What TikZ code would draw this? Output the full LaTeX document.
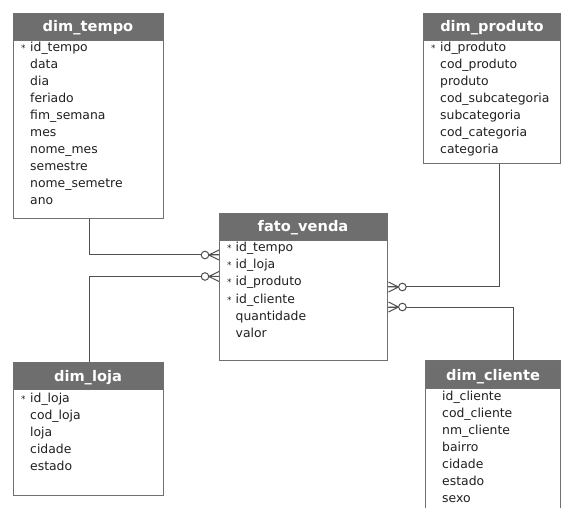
\documentclass[tikz,border=0pt]{standalone}
\usepackage{fontspec}
\setmainfont{DejaVu Sans}
\usetikzlibrary{calc}
\definecolor{hdr}{HTML}{6E6E6E}
\definecolor{frame}{HTML}{707070}
\definecolor{conncol}{HTML}{505050}
\definecolor{txt}{HTML}{202020}
\tikzset{
  tbl/.style={draw=frame, line width=1.4pt, fill=white, anchor=north west, inner sep=0pt},
  hdrbox/.style={fill=hdr, draw=frame, line width=1.4pt, anchor=north west, inner sep=0pt},
  hdrtext/.style={text=white, font=\fontsize{14.6}{16}\selectfont\bfseries, anchor=base, inner sep=0pt},
  row/.style={text=txt, font=\fontsize{12.4}{14}\selectfont, anchor=base west, inner sep=0pt},
  star/.style={text=txt, font=\fontsize{9}{10}\selectfont, anchor=base west, inner sep=0pt},
  conn/.style={draw=conncol, line width=1pt},
  crowfoot/.pic={
    \draw[conn, fill=white] (-14,0) circle (3.8);
    \draw[conn] (-10.2,0) -- (0,0) (-10.2,0) -- (0,-5) (-10.2,0) -- (0,5);
  }
}
\begin{document}
\begin{tikzpicture}[x=1pt,y=-1pt]
\useasboundingbox (0,0) rectangle (563,508);
\clip (0,0) rectangle (563,508);

% ---------- dim_tempo ----------
\node[tbl, minimum width=150pt, minimum height=205pt] (tempo) at (13,13) {};
\node[hdrbox, minimum width=150pt, minimum height=27pt] (tempoh) at (13,13) {};
\node[hdrtext] (tempot) at (88,31.5) {dim\_tempo};
\node[star] (tempos) at (21,52) {*};
\foreach \t [count=\i] in {id\_tempo,data,dia,feriado,fim\_semana,mes,nome\_mes,semestre,nome\_semetre,ano}
  \node[row] (tempo-\i) at (30,52+17*\i-17) {\t};

% ---------- dim_produto ----------
\node[tbl, minimum width=137pt, minimum height=150pt] (prod) at (423,13) {};
\node[hdrbox, minimum width=137pt, minimum height=27pt] (prodh) at (423,13) {};
\node[hdrtext] (prodt) at (492,31.5) {dim\_produto};
\node[star] (prods) at (431,52) {*};
\foreach \t [count=\i] in {id\_produto,cod\_produto,produto,cod\_subcategoria,subcategoria,cod\_categoria,categoria}
  \node[row] (prod-\i) at (440,52+17*\i-17) {\t};

% ---------- fato_venda ----------
\node[tbl, minimum width=168pt, minimum height=147pt] (fato) at (219,213) {};
\node[hdrbox, minimum width=168pt, minimum height=27pt] (fatoh) at (219,213) {};
\node[hdrtext] (fatot) at (303,231.5) {fato\_venda};
\foreach \i in {1,...,4}
  \node[star] (fatos-\i) at (227,252+17*\i-17) {*};
\foreach \t [count=\i] in {id\_tempo,id\_loja,id\_produto,id\_cliente,quantidade,valor}
  \node[row] (fato-\i) at (235.5,252+17*\i-17) {\t};

% ---------- dim_loja ----------
\node[tbl, minimum width=150pt, minimum height=133pt] (loja) at (13,362) {};
\node[hdrbox, minimum width=150pt, minimum height=27pt] (lojah) at (13,362) {};
\node[hdrtext] (lojat) at (88,381.5) {dim\_loja};
\node[star] (lojas) at (21,402) {*};
\foreach \t [count=\i] in {id\_loja,cod\_loja,loja,cidade,estado}
  \node[row] (loja-\i) at (30,402+17*\i-17) {\t};

% ---------- dim_cliente ----------
\node[tbl, minimum width=135pt, minimum height=160pt] (cli) at (425,360) {};
\node[hdrbox, minimum width=135pt, minimum height=28pt] (clih) at (425,360) {};
\node[hdrtext] (clit) at (493,380.5) {dim\_cliente};
\foreach \t [count=\i] in {id\_cliente,cod\_cliente,nm\_cliente,bairro,cidade,estado,sexo}
  \node[row] (cli-\i) at (442,400+17*\i-17) {\t};

% ---------- connectors ----------
\coordinate (fT) at ($(fato.north west)+(0,42)$);
\coordinate (fL) at ($(fato.north west)+(0,63.5)$);
\coordinate (fP) at ($(fato.north east)+(0,74)$);
\coordinate (fC) at ($(fato.north east)+(0,94)$);
\coordinate (tB) at ($(tempo.south west)+(76,0)$);
\coordinate (lT) at ($(loja.north west)+(76,0)$);
\coordinate (pB) at ($(prod.south west)+(76,0)$);
\coordinate (cT) at ($(cli.north west)+(88,0)$);

\draw[conn] (tB) |- (fT);
\draw[conn] (lT) |- (fL);
\draw[conn] (pB) |- (fP);
\draw[conn] (cT) |- (fC);
\pic at (fT) {crowfoot};
\pic at (fL) {crowfoot};
\pic[xscale=-1] at (fP) {crowfoot};
\pic[xscale=-1] at (fC) {crowfoot};
\end{tikzpicture}
\end{document}
